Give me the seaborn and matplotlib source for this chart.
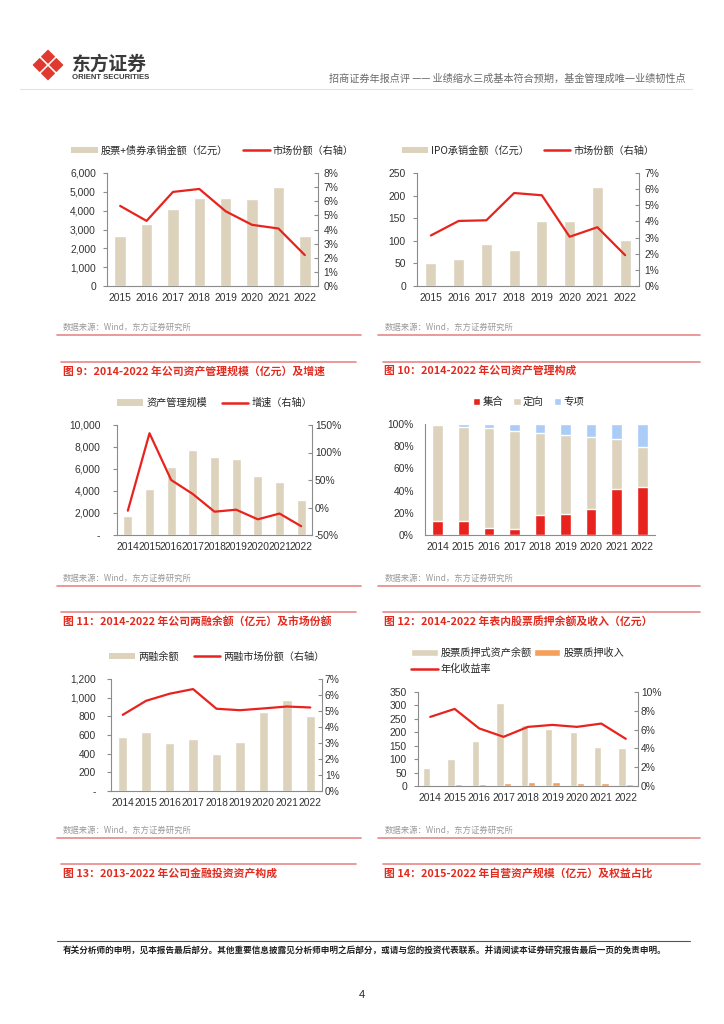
import numpy as np
import pandas as pd
import matplotlib
matplotlib.use("Agg")
import matplotlib.pyplot as plt
from matplotlib.patches import Patch, Polygon
from matplotlib.lines import Line2D
import seaborn as sns

# ---- data ----
years_15 = ["2015", "2016", "2017", "2018", "2019", "2020", "2021", "2022"]
years_14 = ["2014", "2015", "2016", "2017", "2018", "2019", "2020", "2021", "2022"]

underwrite_amt = [2680, 3280, 4075, 4690, 4655, 4600, 5240, 2680]
underwrite_share = [5.67, 4.61, 6.66, 6.87, 5.29, 4.33, 4.07, 2.19]

ipo_amt = [50, 60, 93, 79, 143, 143, 219, 102]
ipo_share = [3.13, 4.03, 4.07, 5.76, 5.62, 3.05, 3.64, 1.91]

am_scale = [1760, 4150, 6180, 7730, 7120, 6880, 5390, 4850, 3180]
am_growth = [-5.8, 135, 50, 24.5, -7.6, -4, -21.5, -11, -34]

am_jihe = [12.6, 12.9, 6.6, 5.7, 18.0, 19.0, 23.7, 41.7, 43.0]
am_dingxiang = [86.2, 84.7, 89.5, 88.3, 73.9, 71.0, 64.6, 44.5, 36.3]
am_zhuanxiang = [1.2, 2.4, 3.9, 6.0, 8.1, 10.0, 11.7, 13.8, 20.7]

margin_bal = [582, 637, 518, 554, 392, 522, 842, 975, 806]
margin_share = [4.76, 5.64, 6.08, 6.37, 5.14, 5.05, 5.16, 5.28, 5.22]

pledge_bal = [67, 101, 168, 309, 226, 211, 200, 145, 143]
pledge_inc = [3, 8, 8, 12, 15, 14, 12, 11, 8]
pledge_yield = [7.35, 8.2, 6.13, 5.23, 6.29, 6.5, 6.29, 6.64, 5.02]

BEIGE = "#DDD3BD"
RED = "#E8231E"
BLUE = "#AACCF6"
ORANGE = "#F5A05A"
AXC = "#8C8C8C"
TXT = "#333333"
CAP = "#E32A1F"
LINEPINK = "#E6898A"

sns.set_style("white")
plt.rcParams["font.family"] = ["Liberation Sans", "Noto Sans CJK SC", "DejaVu Sans"]
plt.rcParams["font.size"] = 7
CJK = ["Noto Sans CJK SC", "DejaVu Sans"]

W, H = 724, 1024
fig = plt.figure(figsize=(W / 100, H / 100), dpi=100)


def box(x0, y0, x1, y1):
    return [x0 / W, 1 - y1 / H, (x1 - x0) / W, (y1 - y0) / H]


def ftext(x, y, s, **kw):
    fig.text(x / W, 1 - y / H, s, va="center", **kw)


def hline(x0, x1, y, color, lw):
    fig.add_artist(Line2D([x0 / W, x1 / W], [1 - y / H, 1 - y / H], color=color, lw=lw))


def base_axis(ax, n, yticks, ylabels, lpad=5):
    ax.set_xlabel("")
    ax.set_ylabel("")
    ax.set_xlim(-0.5, n - 0.5)
    for s in ["top", "right"]:
        ax.spines[s].set_visible(False)
    for s in ["left", "bottom"]:
        ax.spines[s].set_color(AXC)
        ax.spines[s].set_linewidth(0.8)
    ax.set_ylim(yticks[0], yticks[-1])
    ax.set_yticks(yticks)
    ax.set_yticklabels(ylabels)
    ax.set_xticks(np.arange(n - 1) + 0.5, minor=True)
    ax.tick_params(axis="x", which="major", length=0, pad=5, labelsize=7.4, colors=TXT)
    ax.tick_params(axis="x", which="minor", length=3, color=AXC, direction="out")
    ax.tick_params(axis="y", length=3, color=AXC, direction="out", pad=lpad,
                   labelsize=7.4, colors=TXT)
    ax.grid(False)


def add_line(ax, n, line, yticks, ylabels, rpad=4):
    ax2 = ax.twinx()
    sns.lineplot(x=np.arange(n), y=line, ax=ax2, color=RED, linewidth=1.6)
    ax2.set_xlabel("")
    ax2.set_ylabel("")
    for s in ["top", "left", "bottom"]:
        ax2.spines[s].set_visible(False)
    ax2.spines["right"].set_color(AXC)
    ax2.spines["right"].set_linewidth(0.8)
    ax2.set_ylim(yticks[0], yticks[-1])
    ax2.set_yticks(yticks)
    ax2.set_yticklabels(ylabels)
    ax2.tick_params(axis="y", length=3, color=AXC, direction="in", pad=rpad,
                    labelsize=7.4, colors=TXT)
    ax2.grid(False)
    ax.set_xlim(-0.5, n - 0.5)
    return ax2


def combo(rect, years, bars, line, width, yt, yl, y2t, y2l, lab_bar, lab_line, lpad=5, rpad=4):
    ax = fig.add_axes(rect)
    df = pd.DataFrame({"year": years, "value": bars})
    sns.barplot(data=df, x="year", y="value", color=BEIGE, saturation=1, width=width, ax=ax)
    n = len(years)
    base_axis(ax, n, yt, yl, lpad)
    add_line(ax, n, line, y2t, y2l, rpad)
    handles = [Patch(facecolor=BEIGE, edgecolor="none"), Line2D([0], [0], color=RED, lw=1.8)]
    ax.legend(handles, [lab_bar, lab_line], loc="center", bbox_to_anchor=(0.5, 1.2), ncol=2,
              frameon=False, handlelength=2.6, handleheight=0.6, columnspacing=1.5,
              handletextpad=0.3, borderpad=0, borderaxespad=0, prop={"family": CJK, "size": 7.3})
    return ax


# ---- header ----
lax = fig.add_axes(box(32, 49, 64, 81))
lax.set_xlim(-1, 1)
lax.set_ylim(-1, 1)
lax.set_aspect("equal")
lax.axis("off")
for cx, cy in [(0, 0.52), (0.52, 0), (0, -0.52), (-0.52, 0)]:
    r = 0.40
    lax.add_patch(Polygon([(cx, cy + r), (cx + r, cy), (cx, cy - r), (cx - r, cy)],
                          closed=True, facecolor="#E03A30", edgecolor="#E03A30",
                          lw=0.8, joinstyle="round"))
ftext(72, 64, "东方证券", fontsize=13.5, fontweight="bold", color="#3A3A3A", family=CJK)
ftext(72, 77.5, "ORIENT SECURITIES", fontsize=5.6, fontweight="bold", color="#3A3A3A")
ftext(686, 79, "招商证券年报点评 —— 业绩缩水三成基本符合预期，基金管理成唯一业绩韧性点",
      fontsize=7.3, color="#6A6A6A", ha="right", family=CJK)
hline(20, 692, 89, "#E3E3E3", 0.8)

# ---- chart 1 ----
combo(box(107, 173, 318, 286), years_15, underwrite_amt, underwrite_share, 0.44,
      [0, 1000, 2000, 3000, 4000, 5000, 6000],
      ["0", "1,000", "2,000", "3,000", "4,000", "5,000", "6,000"],
      [0, 1, 2, 3, 4, 5, 6, 7, 8], [f"{v}%" for v in range(9)],
      "股票+债券承销金额（亿元）", "市场份额（右轴）")

# ---- chart 2 ----
combo(box(417, 173, 639, 286), years_15, ipo_amt, ipo_share, 0.4,
      [0, 50, 100, 150, 200, 250], ["0", "50", "100", "150", "200", "250"],
      [0, 1, 2, 3, 4, 5, 6, 7], [f"{v}%" for v in range(8)],
      "IPO承销金额（亿元）", "市场份额（右轴）")

# ---- chart 3 ----
combo(box(117, 425, 312, 535), years_14, am_scale, am_growth, 0.42,
      [0, 2000, 4000, 6000, 8000, 10000], ["-", "2,000", "4,000", "6,000", "8,000", "10,000"],
      [-50, 0, 50, 100, 150], ["-50%", "0%", "50%", "100%", "150%"],
      "资产管理规模", "增速（右轴）", lpad=9, rpad=2)

# ---- chart 4: stacked composition ----
ax4 = fig.add_axes(box(425, 424, 655, 535))
top_dx = np.array(am_jihe) + np.array(am_dingxiang)
top_all = top_dx + np.array(am_zhuanxiang)
for vals, col in [(top_all, BLUE), (top_dx, BEIGE), (am_jihe, RED)]:
    sns.barplot(x=years_14, y=vals, color=col, saturation=1, width=0.42, ax=ax4)
base_axis(ax4, 9, [0, 20, 40, 60, 80, 100], [f"{v}%" for v in range(0, 101, 20)])
ax4.legend([Patch(facecolor=RED), Patch(facecolor=BEIGE), Patch(facecolor=BLUE)],
           ["集合", "定向", "专项"], loc="center", bbox_to_anchor=(0.45, 1.2), ncol=3,
           frameon=False, handlelength=0.7, handleheight=0.7, handletextpad=0.2,
           columnspacing=1.0, borderpad=0, borderaxespad=0, prop={"family": CJK, "size": 7.5})

# ---- chart 5 ----
combo(box(111, 679, 322, 791), years_14, margin_bal, margin_share, 0.4,
      [0, 200, 400, 600, 800, 1000, 1200], ["-", "200", "400", "600", "800", "1,000", "1,200"],
      [0, 1, 2, 3, 4, 5, 6, 7], [f"{v}%" for v in range(8)],
      "两融余额", "两融市场份额（右轴）", lpad=8, rpad=2)

# ---- chart 6: grouped bars + yield ----
ax6 = fig.add_axes(box(418, 692, 638, 786))
df6 = pd.DataFrame({
    "year": years_14 * 2,
    "value": pledge_bal + pledge_inc,
    "series": ["股票质押式资产余额"] * 9 + ["股票质押收入"] * 9,
})
sns.barplot(data=df6, x="year", y="value", hue="series", palette=[BEIGE, ORANGE],
            saturation=1, width=0.6, legend=False, ax=ax6)
base_axis(ax6, 9, [0, 50, 100, 150, 200, 250, 300, 350],
          ["0", "50", "100", "150", "200", "250", "300", "350"])
add_line(ax6, 9, pledge_yield, [0, 2, 4, 6, 8, 10], [f"{v}%" for v in range(0, 11, 2)], rpad=2)
ax6.legend([Patch(facecolor=BEIGE), Line2D([0], [0], color=RED, lw=1.8), Patch(facecolor=ORANGE)],
           ["股票质押式资产余额", "年化收益率", "股票质押收入"], loc="center left",
           bbox_to_anchor=(-0.03, 1.33), ncol=2, frameon=False, handlelength=2.6,
           handleheight=0.6, handletextpad=0.3, columnspacing=0.2, labelspacing=0.6,
           borderpad=0, borderaxespad=0, prop={"family": CJK, "size": 7.3})

# ---- sources and captions ----
src = "数据来源：Wind，东方证券研究所"
for ys, yc, ltxt, rtxt in [
    (327, 371, "图 9：2014-2022 年公司资产管理规模（亿元）及增速", "图 10：2014-2022 年公司资产管理构成"),
    (578, 621, "图 11：2014-2022 年公司两融余额（亿元）及市场份额", "图 12：2014-2022 年表内股票质押余额及收入（亿元）"),
    (830, 873, "图 13：2013-2022 年公司金融投资资产构成", "图 14：2015-2022 年自营资产规模（亿元）及权益占比"),
]:
    ftext(63, ys, src, fontsize=6, color="#9A9A9A", family=CJK)
    ftext(385, ys, src, fontsize=6, color="#9A9A9A", family=CJK)
    hline(57, 361, ys + 8, LINEPINK, 1.2)
    hline(378, 700, ys + 8, LINEPINK, 1.2)
    hline(61, 356, yc - 9, LINEPINK, 1.2)
    hline(383, 700, yc - 9, LINEPINK, 1.2)
    ftext(63, yc, ltxt, fontsize=7.8, fontweight="bold", color=CAP, family=CJK)
    ftext(384, yc, rtxt, fontsize=7.8, fontweight="bold", color=CAP, family=CJK)

# ---- footer ----
hline(57, 690, 941, "#555555", 0.8)
ftext(63, 951, "有关分析师的申明，见本报告最后部分。其他重要信息披露见分析师申明之后部分，或请与您的投资代表联系。并请阅读本证券研究报告最后一页的免责申明。",
      fontsize=6.2, fontweight="bold", color="#222222", family=CJK)
ftext(362, 995, "4", fontsize=8, color="#222222", ha="center")

fig.savefig("out.png", dpi=100, facecolor="white")
